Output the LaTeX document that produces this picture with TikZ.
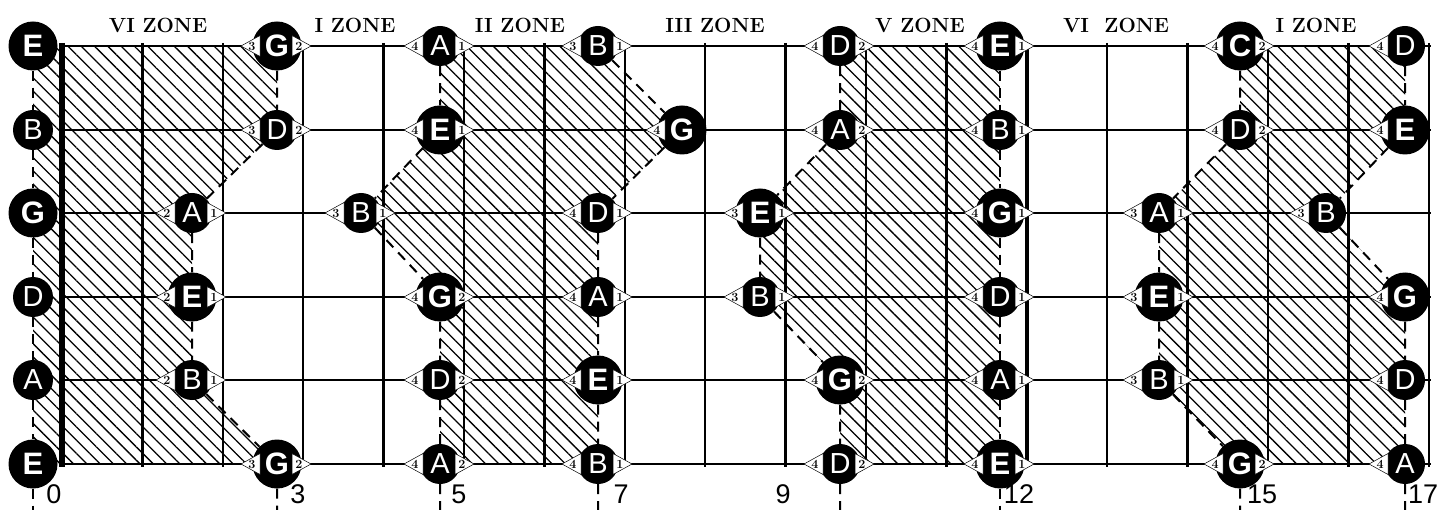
\documentclass[tikz,border=0pt]{standalone}
\usepackage{fontspec}
\newfontfamily\helv{Liberation Sans}
\usetikzlibrary{patterns.meta}
\pgfdeclarelayer{bg}
\pgfsetlayers{bg,main}
\tikzset{
  big/.style={circle,fill=black,text=white,minimum size=49pt,inner sep=0pt,font=\helv\bfseries\fontsize{31}{31}\selectfont},
  small/.style={circle,fill=black,text=white,minimum size=40pt,inner sep=0pt,font=\helv\fontsize{29}{29}\selectfont},
  tri/.style={fill=white,draw=black,line width=0.5pt},
  fing/.style={inner sep=0pt,font=\bfseries\fontsize{12.5}{12.5}\selectfont},
  hatch/.style={pattern={Lines[angle=-45,distance=9.4pt,line width=1.3pt]}},
  dsh/.style={line width=2pt,dash pattern=on 10pt off 7pt},
  strg/.style={line width=2.3pt},
  fret/.style={line width=2.3pt},
  zone/.style={font=\bfseries\fontsize{20.5}{20.5}\selectfont},
  num/.style={font=\helv\fontsize{27}{27}\selectfont},
}
\newcommand\nt[7]{%
  \node[#5] (#1) at (#2,#3) {#4};
  \ifx\relax#6\relax\else
    \draw[tri] ([xshift=-36pt]#1.center) -- ([xshift=-17pt,yshift=10.5pt]#1.center) -- ([xshift=-17pt,yshift=-10.5pt]#1.center) -- cycle;
    \node[fing] (#1-l) at ([xshift=-25pt]#1.center) {#6};
  \fi
  \ifx\relax#7\relax\else
    \draw[tri] ([xshift=34pt]#1.center) -- ([xshift=15pt,yshift=10.5pt]#1.center) -- ([xshift=15pt,yshift=-10.5pt]#1.center) -- cycle;
    \node[fing] (#1-r) at ([xshift=22pt]#1.center) {#7};
  \fi
}
\begin{document}
\begin{tikzpicture}[x=1pt,y=-1pt]
\useasboundingbox (0,0) rectangle (1439,510);
% zone labels
\node[zone] (z1) at (158,25) {VI ZONE};
\node[zone] (z2) at (355,25) {I ZONE};
\node[zone] (z3) at (520,25) {II ZONE};
\node[zone] (z4) at (715,25) {III ZONE};
\node[zone] (z5) at (920,25) {V ZONE};
\node[zone] (z6) at (1116,25) {VI\ \ ZONE};
\node[zone] (z7) at (1316,25) {I ZONE};
% fret numbers
\node[num] (n0) at (54,494) {0};
\node[num] (n3) at (298,494) {3};
\node[num] (n5) at (459,494) {5};
\node[num] (n7) at (621,494) {7};
\node[num] (n9) at (783,494) {9};
\node[num] (n12) at (1019,494) {12};
\node[num] (n15) at (1262,494) {15};
\node[num] (n17) at (1423,494) {17};
% notes: row 1
\nt{r1f0}{33}{46}{E}{big}{}{}
\nt{r1f3}{277}{46}{G}{big}{3}{2}
\nt{r1f5}{440}{46}{A}{small}{4}{1}
\nt{r1f7}{598}{46}{B}{small}{3}{1}
\nt{r1f10}{840}{46}{D}{small}{4}{2}
\nt{r1f12}{1000}{46}{E}{big}{4}{1}
\nt{r1f15}{1240}{46}{C}{big}{4}{2}
\nt{r1f17}{1405}{46}{D}{small}{4}{}
% row 2
\nt{r2f0}{33}{130}{B}{small}{}{}
\nt{r2f3}{277}{130}{D}{small}{3}{2}
\nt{r2f5}{440}{130}{E}{big}{4}{1}
\nt{r2f8}{682}{130}{G}{big}{4}{}
\nt{r2f10}{840}{130}{A}{small}{4}{2}
\nt{r2f12}{1000}{130}{B}{small}{4}{1}
\nt{r2f15}{1240}{130}{D}{small}{4}{2}
\nt{r2f17}{1405}{130}{E}{big}{4}{}
% row 3
\nt{r3f0}{33}{213}{G}{big}{}{}
\nt{r3f2}{192}{213}{A}{small}{2}{1}
\nt{r3f4}{361}{213}{B}{small}{3}{1}
\nt{r3f7}{598}{213}{D}{small}{4}{1}
\nt{r3f9}{760}{213}{E}{big}{3}{1}
\nt{r3f12}{1000}{213}{G}{big}{4}{1}
\nt{r3f14}{1159}{213}{A}{small}{3}{1}
\nt{r3f16}{1326}{213}{B}{small}{3}{}
% row 4
\nt{r4f0}{33}{297}{D}{small}{}{}
\nt{r4f2}{192}{297}{E}{big}{2}{1}
\nt{r4f5}{440}{297}{G}{big}{4}{2}
\nt{r4f7}{598}{297}{A}{small}{4}{1}
\nt{r4f9}{760}{297}{B}{small}{3}{1}
\nt{r4f12}{1000}{297}{D}{small}{4}{1}
\nt{r4f14}{1159}{297}{E}{big}{3}{1}
\nt{r4f17}{1405}{297}{G}{big}{4}{}
% row 5
\nt{r5f0}{33}{380}{A}{small}{}{}
\nt{r5f2}{192}{380}{B}{small}{2}{1}
\nt{r5f5}{440}{380}{D}{small}{4}{2}
\nt{r5f7}{598}{380}{E}{big}{4}{1}
\nt{r5f10}{840}{380}{G}{big}{4}{2}
\nt{r5f12}{1000}{380}{A}{small}{4}{1}
\nt{r5f14}{1159}{380}{B}{small}{3}{1}
\nt{r5f17}{1405}{380}{D}{small}{4}{}
% row 6
\nt{r6f0}{33}{464}{E}{big}{}{}
\nt{r6f3}{277}{464}{G}{big}{3}{2}
\nt{r6f5}{440}{464}{A}{small}{4}{2}
\nt{r6f7}{598}{464}{B}{small}{4}{1}
\nt{r6f10}{840}{464}{D}{small}{4}{2}
\nt{r6f12}{1000}{464}{E}{big}{4}{1}
\nt{r6f15}{1240}{464}{G}{big}{4}{2}
\nt{r6f17}{1405}{464}{A}{small}{4}{}
% bottom coordinates
\coordinate (b0) at (33,512);
\coordinate (b3) at (277,512);
\coordinate (b5) at (440,512);
\coordinate (b7) at (598,512);
\coordinate (b10) at (840,512);
\coordinate (b12) at (1000,512);
\coordinate (b15) at (1240,512);
\coordinate (b17) at (1405,512);
\begin{pgfonlayer}{bg}
  % hatched zones
  \fill[hatch] (r1f0.center) -- (r1f3.center) -- (r2f3.center) -- (r3f2.center) -- (r5f2.center) -- (r6f3.center) -- (r6f0.center) -- cycle;
  \fill[hatch] (r1f5.center) -- (r1f7.center) -- (r2f8.center) -- (r3f7.center) -- (r6f7.center) -- (r6f5.center) -- (r4f5.center) -- (r3f4.center) -- (r2f5.center) -- cycle;
  \fill[hatch] (r1f10.center) -- (r1f12.center) -- (r6f12.center) -- (r6f10.center) -- (r5f10.center) -- (r4f9.center) -- (r3f9.center) -- (r2f10.center) -- cycle;
  \fill[hatch] (r1f15.center) -- (r1f17.center) -- (r2f17.center) -- (r3f16.center) -- (r4f17.center) -- (r6f17.center) -- (r6f15.center) -- (r5f14.center) -- (r3f14.center) -- (r2f15.center) -- cycle;
  % strings
  \foreach \y in {46,130,213,297,380,464} \draw[strg] (62,\y) -- (1431,\y);
  % frets
  \foreach \k in {1,...,11,13,14,15,16,17} \draw[fret] ({62+80.4*\k},43) -- ({62+80.4*\k},467);
  \draw[line width=4pt] ({62+80.4*12},43) -- ({62+80.4*12},467);
  \draw[line width=6.5pt] (62,43) -- (62,467);
  % dashed connectors
  \draw[dsh] (r1f0) -- (r2f0) -- (r3f0) -- (r4f0) -- (r5f0) -- (r6f0) -- (b0);
  \draw[dsh] (r1f3) -- (r2f3) -- (r3f2) -- (r4f2) -- (r5f2) -- (r6f3) -- (b3);
  \draw[dsh] (r1f5) -- (r2f5) -- (r3f4) -- (r4f5) -- (r5f5) -- (r6f5) -- (b5);
  \draw[dsh] (r1f7) -- (r2f8) -- (r3f7) -- (r4f7) -- (r5f7) -- (r6f7) -- (b7);
  \draw[dsh] (r1f10) -- (r2f10) -- (r3f9) -- (r4f9) -- (r5f10) -- (r6f10) -- (b10);
  \draw[dsh] (r1f12) -- (r2f12) -- (r3f12) -- (r4f12) -- (r5f12) -- (r6f12) -- (b12);
  \draw[dsh] (r1f15) -- (r2f15) -- (r3f14) -- (r4f14) -- (r5f14) -- (r6f15) -- (b15);
  \draw[dsh] (r1f17) -- (r2f17) -- (r3f16) -- (r4f17) -- (r5f17) -- (r6f17) -- (b17);
\end{pgfonlayer}
\end{tikzpicture}
\end{document}
